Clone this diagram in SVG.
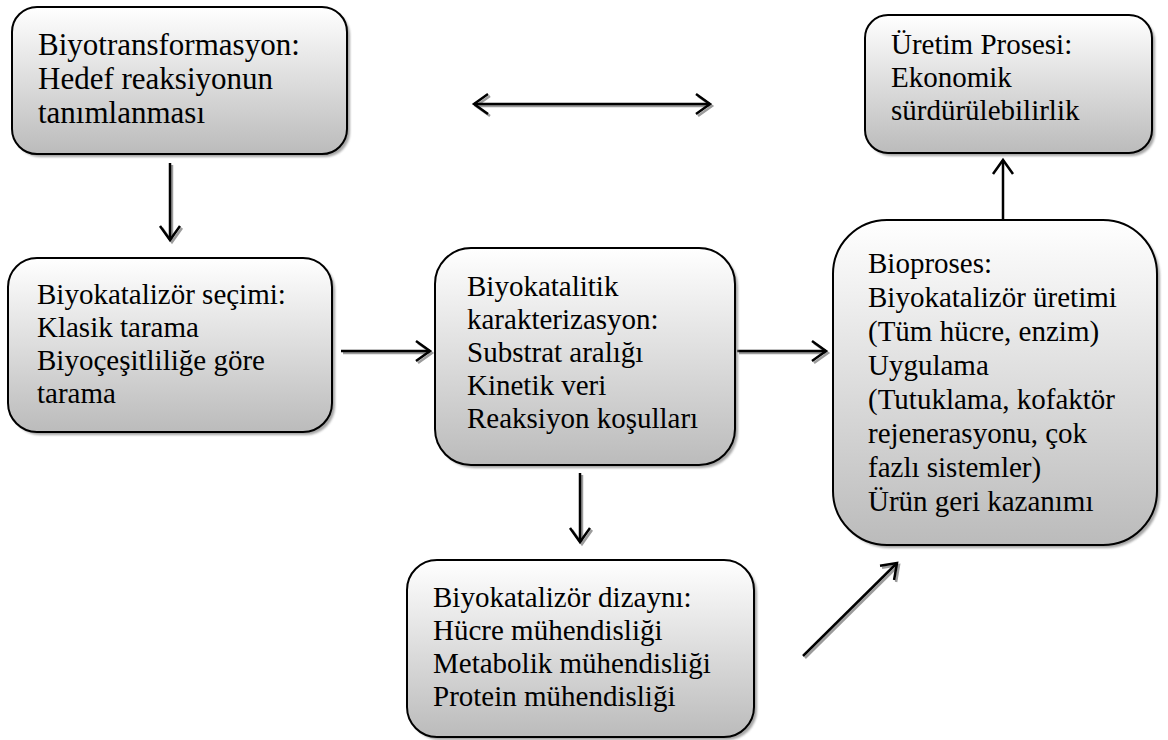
<svg xmlns="http://www.w3.org/2000/svg" width="1168" height="740" viewBox="0 0 1168 740">
<style>
  .box { fill: url(#g); stroke: #000; stroke-width: 2; }
  .shadow { fill: #8f8f8f; opacity: 0.8; filter: url(#blur); }
  .t { font-family: "Liberation Serif", "Times New Roman", serif; font-size: 29px; fill: #000; }
  .big { font-size: 31px; }
  .ln { fill: none; stroke: #000; stroke-width: 2.5; }
  .sh { fill: none; stroke: #9c9c9c; stroke-width: 2.5; }
</style>
<defs>
  <linearGradient id="g" x1="0" y1="0" x2="0" y2="1">
    <stop offset="0" stop-color="#ffffff"/>
    <stop offset="1" stop-color="#bbbbbb"/>
  </linearGradient>
  <filter id="blur" x="-10%" y="-10%" width="120%" height="120%">
    <feGaussianBlur stdDeviation="1"/>
  </filter>
  <marker id="ah" viewBox="-16 -12 20 24" markerWidth="20" markerHeight="24" refX="0" refY="0" orient="auto-start-reverse" markerUnits="userSpaceOnUse">
    <path d="M-14,-10 L0,0 L-14,10" fill="none" stroke="#000" stroke-width="2.5"/>
  </marker>
  <marker id="ahs" viewBox="-16 -12 20 24" markerWidth="20" markerHeight="24" refX="0" refY="0" orient="auto-start-reverse" markerUnits="userSpaceOnUse">
    <path d="M-14,-10 L0,0 L-14,10" fill="none" stroke="#9c9c9c" stroke-width="2.5"/>
  </marker>
</defs>
<rect width="1168" height="740" fill="#fff"/>

<g id="connectors">
  <g transform="translate(2,2)">
    <line class="sh" x1="170" y1="163" x2="170" y2="240" marker-end="url(#ahs)"/>
    <line class="sh" x1="474" y1="104" x2="710" y2="104" marker-start="url(#ahs)" marker-end="url(#ahs)"/>
    <line class="sh" x1="341" y1="351" x2="430" y2="351" marker-end="url(#ahs)"/>
    <line class="sh" x1="737" y1="351" x2="826" y2="351" marker-end="url(#ahs)"/>
    <line class="sh" x1="580" y1="473" x2="580" y2="542" marker-end="url(#ahs)"/>
    <line class="sh" x1="803" y1="656" x2="897" y2="563" marker-end="url(#ahs)"/>
  </g>
  <line class="ln" x1="170" y1="163" x2="170" y2="240" marker-end="url(#ah)"/>
  <line class="ln" x1="474" y1="104" x2="710" y2="104" marker-start="url(#ah)" marker-end="url(#ah)"/>
  <line class="ln" x1="341" y1="351" x2="430" y2="351" marker-end="url(#ah)"/>
  <line class="ln" x1="737" y1="351" x2="826" y2="351" marker-end="url(#ah)"/>
  <line class="ln" x1="580" y1="473" x2="580" y2="542" marker-end="url(#ah)"/>
  <line class="ln" x1="803" y1="656" x2="897" y2="563" marker-end="url(#ah)"/>
  <line class="ln" x1="1003" y1="222" x2="1003" y2="160" marker-end="url(#ah)"/>
</g>

<g id="node-biyotransformasyon">
  <rect class="shadow" x="15" y="10" width="335" height="147" rx="25"/>
  <rect class="box" x="12" y="7" width="335" height="147" rx="25"/>
  <text class="t big" x="38" y="55">Biyotransformasyon:</text>
  <text class="t big" x="38" y="89">Hedef reaksiyonun</text>
  <text class="t big" x="38" y="123">tanımlanması</text>
</g>

<g id="node-uretim">
  <rect class="shadow" x="868" y="18" width="287" height="138" rx="23"/>
  <rect class="box" x="865" y="15" width="287" height="138" rx="23"/>
  <text class="t" x="891" y="54">Üretim Prosesi:</text>
  <text class="t" x="891" y="87">Ekonomik</text>
  <text class="t" x="891" y="120">sürdürülebilirlik</text>
</g>

<g id="node-secim">
  <rect class="shadow" x="11" y="261" width="324" height="174" rx="29"/>
  <rect class="box" x="8" y="258" width="324" height="174" rx="29"/>
  <text class="t" x="37" y="304">Biyokatalizör seçimi:</text>
  <text class="t" x="37" y="337">Klasik tarama</text>
  <text class="t" x="37" y="370">Biyoçeşitliliğe göre</text>
  <text class="t" x="37" y="403">tarama</text>
</g>

<g id="node-karakterizasyon">
  <rect class="shadow" x="438" y="251" width="300" height="217" rx="36"/>
  <rect class="box" x="435" y="248" width="300" height="217" rx="36"/>
  <text class="t" x="467" y="296">Biyokatalitik</text>
  <text class="t" x="467" y="329">karakterizasyon:</text>
  <text class="t" x="467" y="362">Substrat aralığı</text>
  <text class="t" x="467" y="395">Kinetik veri</text>
  <text class="t" x="467" y="428">Reaksiyon koşulları</text>
</g>

<g id="node-bioproses">
  <rect class="shadow" x="836" y="223" width="324" height="325" rx="54"/>
  <rect class="box" x="833" y="220" width="324" height="325" rx="54"/>
  <text class="t" x="868" y="273">Bioproses:</text>
  <text class="t" x="868" y="307">Biyokatalizör üretimi</text>
  <text class="t" x="868" y="341">(Tüm hücre, enzim)</text>
  <text class="t" x="868" y="375">Uygulama</text>
  <text class="t" x="868" y="409">(Tutuklama, kofaktör</text>
  <text class="t" x="868" y="443">rejenerasyonu, çok</text>
  <text class="t" x="868" y="477">fazlı sistemler)</text>
  <text class="t" x="868" y="511">Ürün geri kazanımı</text>
</g>

<g id="node-dizayn">
  <rect class="shadow" x="410" y="563" width="347" height="177" rx="30"/>
  <rect class="box" x="407" y="560" width="347" height="177" rx="30"/>
  <text class="t" x="433" y="607">Biyokatalizör dizaynı:</text>
  <text class="t" x="433" y="640">Hücre mühendisliği</text>
  <text class="t" x="433" y="673">Metabolik mühendisliği</text>
  <text class="t" x="433" y="706">Protein mühendisliği</text>
</g>
</svg>
